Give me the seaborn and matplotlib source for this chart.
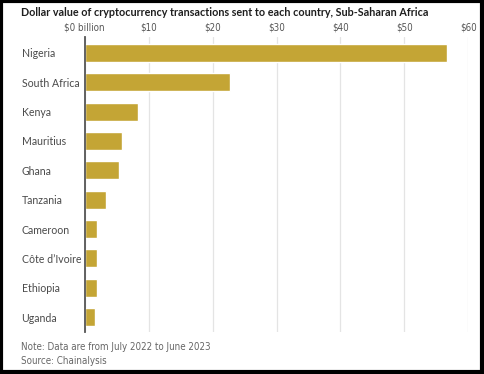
import matplotlib
matplotlib.use("Agg")
import matplotlib.pyplot as plt
import seaborn as sns
import pandas as pd
from matplotlib.patches import Rectangle
from matplotlib import font_manager as fm

# Values, billions of dollars
countries = ["Nigeria", "South Africa", "Kenya", "Mauritius", "Ghana",
             "Tanzania", "Cameroon", "Côte d\u2019Ivoire", "Ethiopia", "Uganda"]
values = [56.6, 22.8, 8.4, 5.8, 5.4, 3.4, 2.0, 2.0, 1.9, 1.6]
xticks = [0, 10, 20, 30, 40, 50, 60]
xtick_labels = ["$0 billion", "$10", "$20", "$30", "$40", "$50", "$60"]

title = "Dollar value of cryptocurrency transactions sent to each country, Sub-Saharan Africa"
note = "Note: Data are from July 2022 to June 2023"
source = "Source: Chainalysis"


# look for an upright narrow/condensed face for the small grey texts
def narrow_font():
    wanted = ["condensed", "semi-condensed", "extra-condensed"]
    ok = [f for f in fm.fontManager.ttflist
          if f.style == "normal" and f.weight in (400, "normal", "regular")]
    for fam in ["Liberation Sans Narrow", "DejaVu Sans", "Noto Sans", "Open Sans", "Roboto"]:
        for f in ok:
            if f.name.startswith(fam) and str(f.stretch) in wanted:
                return fm.FontProperties(fname=f.fname), True
    for f in ok:
        if "Narrow" in f.name or "Condensed" in f.name:
            return fm.FontProperties(fname=f.fname), True
    return fm.FontProperties(family="DejaVu Sans"), False


narrow, found = narrow_font()
small = 7.0 if found else 6.2

df = pd.DataFrame({"country": countries, "value": values})

sns.set_style("white")
plt.rcParams["font.family"] = ["Lato", "DejaVu Sans"]

fig = plt.figure(figsize=(4.84, 3.74), dpi=100)
ax = fig.add_axes([0.175, 0.1123, 0.7926, 0.7888])

sns.barplot(data=df, x="value", y="country", orient="h", color="#C4A535",
            width=0.61, saturation=1, ax=ax)

ax.set_xlim(0, 60)
ax.set_ylim(9.51, -0.545)
ax.set_xlabel("")
ax.set_ylabel("")

ax.xaxis.tick_top()
ax.set_xticks(xticks)
ax.set_xticklabels(xtick_labels)
for lab in ax.get_xticklabels():
    lab.set_fontproperties(narrow)
    lab.set_fontsize(small)
    lab.set_color("#555555")
ax.tick_params(axis="x", length=0, pad=3)
ax.tick_params(axis="y", length=0, pad=45.5)
for lab in ax.get_yticklabels():
    lab.set_horizontalalignment("left")
    lab.set_fontsize(7.6)
    lab.set_color("#4a4a4a")

ax.grid(axis="x", color="#e4e4e4", linewidth=0.9)
ax.set_axisbelow(True)
for s in ["top", "right", "bottom"]:
    ax.spines[s].set_visible(False)
ax.spines["left"].set_color("#555555")
ax.spines["left"].set_linewidth(1.3)
ax.spines["left"].set_zorder(5)

fig.text(21 / 484, 1 - 12 / 374, title, fontsize=7.75, fontweight="bold",
         color="#1e1e1e", va="center", ha="left")
for txt, ypix in [(note, 347.5), (source, 361)]:
    t = fig.text(21 / 484, 1 - ypix / 374, txt, color="#666666", va="center", ha="left")
    t.set_fontproperties(narrow)
    t.set_fontsize(small)

fig.patches.append(Rectangle((0.003, 0.006), 0.993, 0.991, transform=fig.transFigure,
                             fill=False, edgecolor="black", linewidth=3))

fig.savefig("out.png", dpi=100)
